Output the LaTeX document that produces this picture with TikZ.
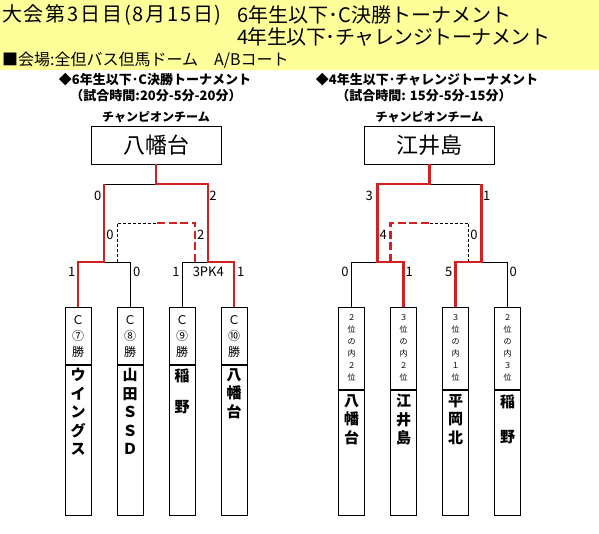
\documentclass[tikz,border=0pt]{standalone}
\usepackage{fontspec}
\setmainfont{Noto Sans CJK JP}
\usepackage{tikz}
\usetikzlibrary{positioning}
\definecolor{bandyellow}{HTML}{FFFF99}
\definecolor{winred}{HTML}{D42020}
\tikzset{
  lose/.style={black, line width=0.9pt},
  win/.style={winred, line width=2.2pt},
  loseD/.style={lose, dash pattern=on 3pt off 2pt},
  winD/.style={win, dash pattern=on 8pt off 3.5pt},
  score/.style={font=\fontsize{13}{13}\selectfont, inner sep=0pt},
  champ/.style={draw, line width=0.9pt, minimum width=130pt, minimum height=38pt, font=\fontsize{22}{22}\selectfont},
  champlbl/.style={font=\bfseries\fontsize{12}{12}\selectfont, inner sep=0pt},
  colbox/.style={draw, line width=0.9pt, inner sep=0pt, anchor=north},
  seedL/.style={colbox, font=\fontsize{12}{16}\selectfont},
  nameL/.style={colbox, font=\bfseries\fontsize{15}{18.5}\selectfont},
  seedR/.style={colbox, font=\fontsize{8}{12}\selectfont},
  nameR/.style={colbox, font=\bfseries\fontsize{15}{18.5}\selectfont},
}
\newcommand{\vcol}[3]{\parbox[t][#1][t]{26pt}{\centering\vspace*{#2}#3\par}}

\begin{document}
\begin{tikzpicture}[x=1pt,y=-1pt]
\useasboundingbox (0,0) rectangle (599,534);
\fill[bandyellow] (0,0) rectangle (599,70);

\node[anchor=west, inner sep=0pt, font=\fontsize{20}{20}\selectfont\addfontfeature{LetterSpace=9}] (ttl1) at (2,15) {大会第3日目(8月15日)};
\node[anchor=west, inner sep=0pt, font=\fontsize{20}{20}\selectfont] (ttl2) at (237,15) {6年生以下･C決勝トーナメント};
\node[anchor=west, inner sep=0pt, font=\fontsize{20}{20}\selectfont\addfontfeature{LetterSpace=-2.5}] (ttl3) at (237,37) {4年生以下･チャレンジトーナメント};
\node[anchor=west, inner sep=0pt, font=\fontsize{16}{16}\selectfont] (venue) at (2,60) {■会場:全但バス但馬ドーム　A/Bコート};

\node[inner sep=0pt, font=\bfseries\fontsize{13}{13}\selectfont] (subL1) at (155,80) {◆6年生以下･C決勝トーナメント};
\node[inner sep=0pt, font=\bfseries\fontsize{13}{13}\selectfont] (subL2) at (156,96) {（試合時間:20分-5分-20分）};
\node[inner sep=0pt, font=\bfseries\fontsize{13}{13}\selectfont] (subR1) at (427,80) {◆4年生以下･チャレンジトーナメント};
\node[inner sep=0pt, font=\bfseries\fontsize{13}{13}\selectfont] (subR2) at (424,96) {（試合時間: 15分-5分-15分）};

% 6年生以下
\node[champ] (chL) at (156,145) {八幡台};
\node[champlbl, above=3pt of chL] (chLlbl) {チャンピオンチーム};

\node[seedL] (sL1) at (78,307) {\vcol{57pt}{8pt}{Ｃ\\⑦\\勝}};
\node[seedL] (sL2) at (130,307) {\vcol{57pt}{8pt}{Ｃ\\⑧\\勝}};
\node[seedL] (sL3) at (182,307) {\vcol{57pt}{8pt}{Ｃ\\⑨\\勝}};
\node[seedL] (sL4) at (234,307) {\vcol{57pt}{8pt}{Ｃ\\⑩\\勝}};
\node[nameL, below=0pt of sL1] (nL1) {\vcol{150pt}{3pt}{ウ\\イ\\ン\\グ\\ス}};
\node[nameL, below=0pt of sL2] (nL2) {\vcol{150pt}{3pt}{山\\田\\Ｓ\\Ｓ\\Ｄ}};
\node[nameL, below=0pt of sL3] (nL3) {\vcol{150pt}{3pt}{稲\\[13pt]野}};
\node[nameL, below=0pt of sL4] (nL4) {\vcol{150pt}{3pt}{八\\幡\\台}};

\coordinate (jL1) at (104,262);
\coordinate (jL2) at (208,262);
\coordinate (jLF) at (156,184);
\coordinate (dL1) at (117,262);
\coordinate (dL2) at (195,262);
\coordinate (dLm) at (156,223);

\draw[lose] (sL2.north) |- (jL1);
\draw[lose] (sL3.north) |- (jL2);
\draw[lose] (jL1 |- jLF) -- (jLF);
\draw[loseD] (dL1) |- (dLm);
\draw[win] (sL1.north) |- (jL1) -- (jL1 |- jLF);
\draw[win] (sL4.north) |- (jL2) |- (jLF) -- (chL.south);
\draw[winD] (dL2) |- (dLm);

\node[score] (scL1) at (97.7,196) {0};
\node[score] (scL2) at (213,196) {2};
\node[score] (scL3) at (110,235) {0};
\node[score] (scL4) at (200.7,235) {2};
\node[score] (scL5) at (71.7,272) {1};
\node[score] (scL6) at (136.7,272) {0};
\node[score] (scL7) at (176,272) {1};
\node[score] (scL8) at (208.3,272) {3PK4};
\node[score] (scL9) at (240.7,272) {1};

% 4年生以下
\node[champ] (chR) at (429.5,145) {江井島};
\node[champlbl, above=3pt of chR] (chRlbl) {チャンピオンチーム};

\node[seedR] (sR1) at (351.5,307) {\vcol{82pt}{7pt}{２\\位\\の\\内\\２\\位}};
\node[seedR] (sR2) at (403.5,307) {\vcol{82pt}{7pt}{３\\位\\の\\内\\２\\位}};
\node[seedR] (sR3) at (455.5,307) {\vcol{82pt}{7pt}{３\\位\\の\\内\\１\\位}};
\node[seedR] (sR4) at (507.5,307) {\vcol{82pt}{7pt}{２\\位\\の\\内\\３\\位}};
\node[nameR, below=0pt of sR1] (nR1) {\vcol{125pt}{4pt}{八\\幡\\台}};
\node[nameR, below=0pt of sR2] (nR2) {\vcol{125pt}{4pt}{江\\井\\島}};
\node[nameR, below=0pt of sR3] (nR3) {\vcol{125pt}{4pt}{平\\岡\\北}};
\node[nameR, below=0pt of sR4] (nR4) {\vcol{125pt}{4pt}{稲\\[17pt]野}};

\coordinate (jR1) at (377.5,262);
\coordinate (jR2) at (481.5,262);
\coordinate (jRF) at (429.5,184);
\coordinate (dR1) at (390.5,262);
\coordinate (dR2) at (468.5,262);
\coordinate (dRm) at (429.5,223);

\draw[lose] (sR1.north) |- (jR1);
\draw[lose] (sR4.north) |- (jR2);
\draw[lose] (jR2 |- jRF) -- (jRF);
\draw[loseD] (dR2) |- (dRm);
\draw[win] (sR3.north) |- (jR2) -- (jR2 |- jRF);
\draw[win] (sR2.north) |- (jR1) |- (jRF) -- (chR.south);
\draw[winD] (dR1) |- (dRm);

\node[score] (scR1) at (369.3,196) {3};
\node[score] (scR2) at (486.7,196) {1};
\node[score] (scR3) at (383.3,235) {4};
\node[score] (scR4) at (474,235) {0};
\node[score] (scR5) at (345,272) {0};
\node[score] (scR6) at (409.3,272) {1};
\node[score] (scR7) at (448.7,272) {5};
\node[score] (scR8) at (513.3,272) {0};
\end{tikzpicture}
\end{document}
